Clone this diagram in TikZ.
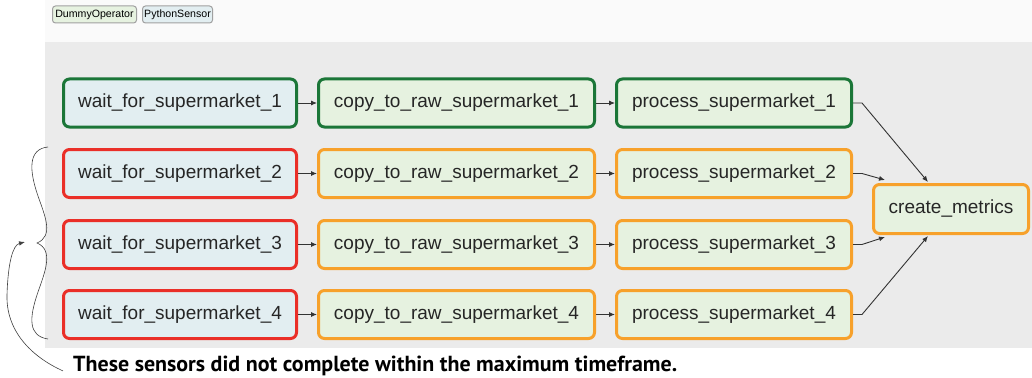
\documentclass[tikz,border=0pt]{standalone}
\usepackage{fontspec}
\setmainfont{Liberation Sans}
\newfontfamily\notefont{PT Sans}
\usetikzlibrary{arrows.meta}
\definecolor{bggray}{HTML}{EBEBEB}
\definecolor{topwhite}{HTML}{FAFAFA}
\definecolor{sensorfill}{HTML}{E2EEF1}
\definecolor{dummyfill}{HTML}{E6F2E0}
\definecolor{okgreen}{HTML}{1B7638}
\definecolor{failred}{HTML}{EA2F28}
\definecolor{upforange}{HTML}{F7A12B}
\definecolor{legendborder}{HTML}{A0A0A0}
\tikzset{
  task/.style={draw, rounded corners=6pt, line width=3pt, minimum height=48pt,
    font=\fontsize{19}{22}\selectfont, text=black!85, inner sep=0pt},
  sensor/.style={task, fill=sensorfill, minimum width=233pt},
  copybox/.style={task, fill=dummyfill, minimum width=276pt},
  procbox/.style={task, fill=dummyfill, minimum width=235pt},
  okstate/.style={draw=okgreen},
  failstate/.style={draw=failred},
  upfstate/.style={draw=upforange},
  legendbox/.style={draw=legendborder, line width=1pt, rounded corners=3pt,
    minimum height=17pt, inner sep=0pt, font=\fontsize{10.6}{12}\selectfont},
  flow/.style={line width=0.9pt, black!80, -{Latex[length=6pt,width=5pt]}},
}
\begin{document}
\begin{tikzpicture}[x=1pt,y=-1pt]
\useasboundingbox (0,0) rectangle (1032,377);
\fill[white] (0,0) rectangle (1032,377);
\fill[topwhite] (45,0) rectangle (1032,42);
\fill[bggray] (45,42) rectangle (1032,348);

% legend
\node[legendbox, fill=dummyfill, minimum width=84pt] (lgd) at (94.5,14.5) {DummyOperator};
\node[legendbox, fill=sensorfill, minimum width=70pt] (lgp) at (177.5,14.5) {PythonSensor};

% rows
\node[sensor, okstate] (w1) at (180,103) {wait\_for\_supermarket\_1};
\node[copybox, okstate] (c1) at (456.5,103) {copy\_to\_raw\_supermarket\_1};
\node[procbox, okstate] (p1) at (734,103) {process\_supermarket\_1};

\node[sensor, failstate] (w2) at (180,173.5) {wait\_for\_supermarket\_2};
\node[copybox, upfstate] (c2) at (456.5,173.5) {copy\_to\_raw\_supermarket\_2};
\node[procbox, upfstate] (p2) at (734,173.5) {process\_supermarket\_2};

\node[sensor, failstate] (w3) at (180,244.5) {wait\_for\_supermarket\_3};
\node[copybox, upfstate] (c3) at (456.5,244.5) {copy\_to\_raw\_supermarket\_3};
\node[procbox, upfstate] (p3) at (734,244.5) {process\_supermarket\_3};

\node[sensor, failstate] (w4) at (180,314.5) {wait\_for\_supermarket\_4};
\node[copybox, upfstate] (c4) at (456.5,314.5) {copy\_to\_raw\_supermarket\_4};
\node[procbox, upfstate] (p4) at (734,314.5) {process\_supermarket\_4};

\node[task, fill=dummyfill, upfstate, minimum width=155pt, minimum height=49pt] (cm) at (951,209) {create\_metrics};

% edges
\foreach \i in {1,2,3,4}{
  \draw[flow] (w\i.east) -- (c\i.west);
  \draw[flow] (c\i.east) -- (p\i.west);
}
\draw[flow] (p1.east) -- ++(9,0) -- ([xshift=-23pt,yshift=1pt]cm.north);
\draw[flow] (p2.east) -- ++(9,0) -- ([xshift=13pt,yshift=3pt]cm.north west);
\draw[flow] (p3.east) -- ++(9,0) -- ([xshift=13pt,yshift=-2pt]cm.south west);
\draw[flow] (p4.east) -- ++(9,0) -- ([xshift=-23pt,yshift=-1pt]cm.south);

% annotation
\node[anchor=base west, inner sep=0pt] (note) at (73,371.5)
  {\resizebox{604pt}{15.5pt}{\notefont\bfseries These sensors did not complete within the maximum timeframe.}};
\coordinate (bracetip) at (25,242);
\draw[line width=0.6pt, black!75]
  (48,147) .. controls (28,149) and (29,170) .. (38,196)
  .. controls (45,216) and (54,236) .. (37,243)
  .. controls (54,250) and (45,272) .. (38,292)
  .. controls (29,318) and (28,336) .. (48,339);
\draw[line width=0.6pt, black!75, -{Latex[length=6pt,width=4.5pt]}]
  ([xshift=-10pt,yshift=-5pt]note.west) .. controls (30,356) and (6,330) .. (7,295)
  .. controls (8,262) and (13,245) .. (bracetip);
\end{tikzpicture}
\end{document}
